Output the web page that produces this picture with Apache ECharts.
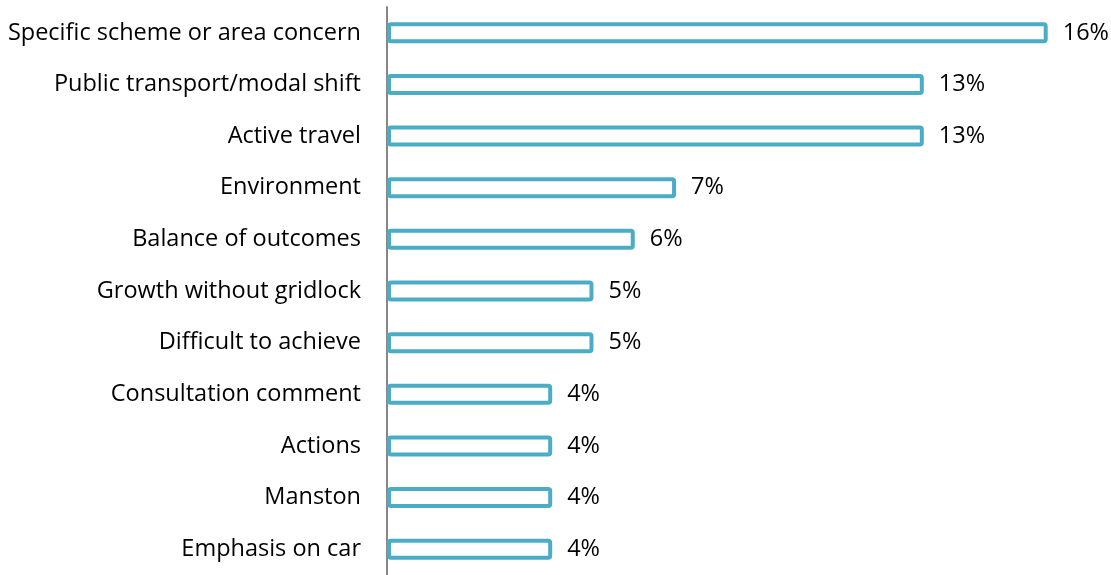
<!DOCTYPE html>
<html>
<head>
<meta charset="utf-8">
<script src="https://cdn.jsdelivr.net/npm/echarts@6/dist/echarts.min.js"></script>
<style>
  html, body { margin: 0; padding: 0; background: #fff; }
  #chart { width: 1111px; height: 575px; }
</style>
</head>
<body>
<div id="chart"></div>
<script>
// categories top to bottom
const categories = [
  "Specific scheme or area concern",
  "Public transport/modal shift",
  "Active travel",
  "Environment",
  "Balance of outcomes",
  "Growth without gridlock",
  "Difficult to achieve",
  "Consultation comment",
  "Actions",
  "Manston",
  "Emphasis on car"
];
const shares = [16, 13, 13, 7, 6, 5, 5, 4, 4, 4, 4];

const chart = echarts.init(document.getElementById("chart"));
const font = "'Open Sans', sans-serif";

chart.setOption({
  animation: false,
  grid: {
    left: 387,
    top: 7,
    width: 702,
    height: 573
  },
  xAxis: {
    type: "value",
    min: 0,
    max: 17,
    show: false
  },
  yAxis: {
    type: "category",
    inverse: true,
    data: categories,
    axisLine: { lineStyle: { color: "#878787", width: 2 } },
    axisTick: { show: false },
    axisLabel: {
      margin: 26,
      color: "#000",
      fontSize: 23.5,
      fontFamily: font
    }
  },
  series: [{
    type: "bar",
    data: shares,
    barWidth: 21,
    itemStyle: {
      color: "#fff",
      borderColor: "#4BACC6",
      borderWidth: 4,
      borderRadius: 2
    },
    label: {
      show: true,
      position: "right",
      distance: 15,
      formatter: "{c}%",
      color: "#000",
      fontSize: 23.5,
      fontFamily: font
    }
  }]
});
</script>
</body>
</html>
